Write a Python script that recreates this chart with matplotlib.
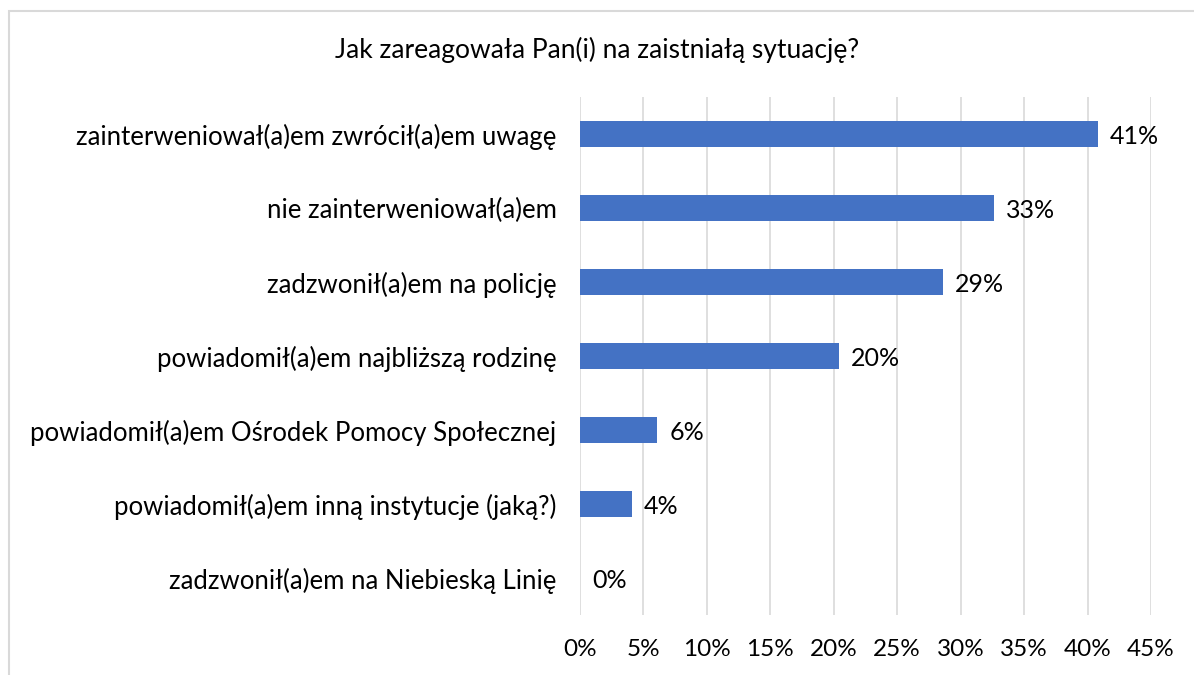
import matplotlib
matplotlib.use("Agg")
import matplotlib.pyplot as plt
from matplotlib.patches import Rectangle
from matplotlib.ticker import FuncFormatter, MultipleLocator

title = "Jak zareagowała Pan(i) na zaistniałą sytuację?"
categories = [
    "zainterweniował(a)em zwrócił(a)em uwagę",
    "nie zainterweniował(a)em",
    "zadzwonił(a)em na policję",
    "powiadomił(a)em najbliższą rodzinę",
    "powiadomił(a)em Ośrodek Pomocy Społecznej",
    "powiadomił(a)em inną instytucje (jaką?)",
    "zadzwonił(a)em na Niebieską Linię",
]
values = [0.408, 0.326, 0.286, 0.204, 0.061, 0.041, 0.0]
labels = ["41%", "33%", "29%", "20%", "6%", "4%", "0%"]

plt.rcParams['font.family'] = ['Lato', 'DejaVu Sans']

W, H = 1194, 675
fig = plt.figure(figsize=(W / 100, H / 100), dpi=100)
fig.patch.set_facecolor("white")

# outer chart border
fig.patches.append(Rectangle((9 / W, -0.1), 1.2, (H - 11) / H + 0.1,
                             transform=fig.transFigure, fill=False,
                             edgecolor="#d9d9d9", linewidth=1.5))

ax = fig.add_axes([580 / W, (H - 615) / H, (1151 - 580) / W, (615 - 97) / H])
y = list(range(len(categories)))
ax.barh(y, values, height=0.36, color="#4472c4", zorder=3)
for yi, v, lab in zip(y, values, labels):
    ax.text(v + 0.0095, yi + 0.03, lab, va="center", ha="left", fontsize=18,
            color="#000000")

ax.set_ylim(len(categories) - 0.5, -0.5)
ax.set_xlim(0, 0.45)
ax.xaxis.set_major_locator(MultipleLocator(0.05))
ax.xaxis.set_major_formatter(FuncFormatter(lambda x, p: f"{x * 100:.0f}%"))
ax.set_yticks(y)
ax.set_yticklabels(categories)
ax.tick_params(axis="y", length=0, pad=17, labelsize=18.5)
ax.tick_params(axis="x", length=0, pad=17, labelsize=17.5)
ax.grid(axis="x", color="#d9d9d9", linewidth=1.2, zorder=0)
for s in ax.spines.values():
    s.set_visible(False)

fig.text(597 / W, 1 - 50 / H, title, ha="center", va="center", fontsize=19)

fig.savefig("out.png", dpi=100, facecolor="white")
